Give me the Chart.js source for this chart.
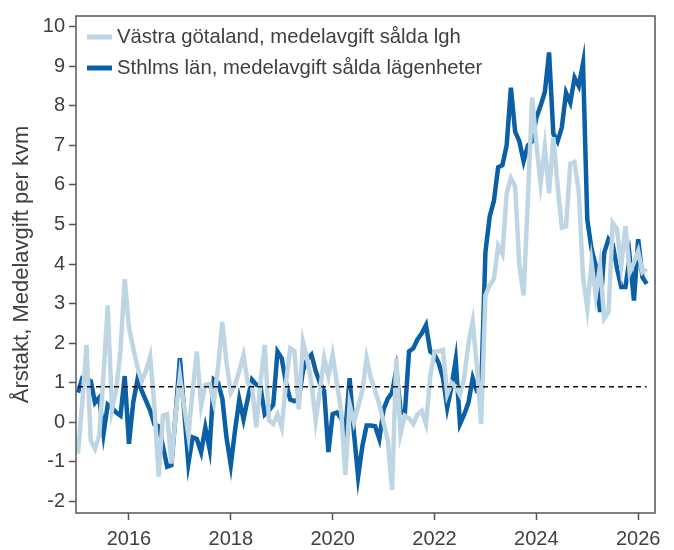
<!DOCTYPE html>
<html lang="sv">
<head>
  <meta charset="UTF-8">
  <title>Medelavgift per kvm</title>
  <script src="https://cdn.jsdelivr.net/npm/chart.js"></script>
  <style>
    html, body { margin: 0; padding: 0; background: #fff; }
    #wrap { width: 674px; height: 550px; }
  </style>
</head>
<body>
  <div id="wrap"><canvas id="chart"></canvas></div>

  <script>
    // Månadsdata, jan 2015 - mar 2026
    const startYear = 2015;
    const vastraLabel = 'Västra götaland, medelavgift sålda lgh';
    const sthlmLabel = 'Sthlms län, medelavgift sålda lägenheter';

    const vastra = [
      -0.79, 0.5, 1.96, -0.46, -0.67, -0.33, 1.2, 2.96, 0.33, 0.83, 1.8, 3.62,
      2.4, 1.88, 1.4, 1.04, 1.3, 1.67, 0.4, -1.37, 0.17, 0.21, -1.04, 0.2,
      1.17, 0.4, -0.33, 0.8, 1.79, 0.42, 0.95, 0.97, 0.5, 1.4, 2.54, 1.5,
      0.75, 0.95, 1.3, 1.7, 1.0, 0.9, -0.13, 1.0, 1.96, 0.05, -0.04, 0.2,
      -0.13, 1.0, 1.87, 1.8, 0.33, 2.04, 1.6, 1.0, 0.04, 0.8, 1.62, 1.17,
      1.71, 1.0, 0.29, -1.33, 0.46, 0.0, 0.4, 0.8, 1.62, 1.12, 0.8, 0.46,
      0.0, -0.46, -1.71, 1.62, -0.29, 0.17, 0.1, -0.04, 0.2, 0.29, -0.04, 1.17,
      1.79, 1.8, 1.83, 0.71, 1.0, 0.9, 0.7, 1.12, 2.0, 2.54, 1.4, -0.04,
      3.21, 3.46, 3.63, 4.46, 4.25, 5.79, 6.17, 5.96, 3.96, 3.21, 5.63, 8.21,
      7.04, 6.04, 6.96, 5.79, 7.21, 6.0, 4.92, 4.96, 6.54, 6.58, 5.83, 3.67,
      2.88, 4.04, 3.2, 3.96, 2.63, 2.79, 5.04, 4.88, 3.96, 4.96, 3.79, 4.04,
      4.33, 3.79, 3.88
    ];

    const sthlm = [
      0.75, 1.12, 1.1, 1.04, 0.5, 0.63, -0.29, 0.45, 0.37, 0.25, 0.17, 1.17,
      -0.54, 0.5, 1.08, 0.8, 0.55, 0.3, -0.05, -0.1, -0.6, -1.12, -1.08, 0.2,
      1.62, 0.3, -1.04, -0.38, -0.42, -0.75, -0.13, -0.67, 1.08, 1.0, 0.6, -0.4,
      -1.08, -0.2, 0.58, 0.08, 0.6, 1.08, 0.95, 0.9, 0.2, 0.3, 0.45, 1.79,
      1.62, 1.0, 0.58, 0.54, 0.58, 1.3, 1.6, 1.71, 1.3, 1.0, 0.79, -0.75,
      0.21, 0.25, 0.1, -0.21, 1.12, -0.25, -1.37, -0.6, -0.08, -0.08, -0.1, -0.42,
      0.33, 0.6, 0.75, 1.33, 0.3, 0.21, 1.79, 1.87, 2.1, 2.25, 2.46, 1.79,
      1.71, 1.5, 1.12, 0.37, 0.9, 1.58, -0.04, 0.2, 0.5, 1.12, 0.79, 0.8,
      4.3, 5.2, 5.6, 6.45, 6.5, 7.0, 8.46, 7.35, 7.1, 6.6, 7.0, 7.1,
      7.7, 8.0, 8.35, 9.35, 7.3, 7.1, 7.45, 8.33, 8.08, 8.71, 8.5, 9.08,
      5.13, 4.38, 3.96, 2.79, 4.29, 4.63, 4.5, 3.9, 3.42, 3.42, 4.17, 3.08,
      4.63, 3.67, 3.5
    ];

    const benchmark = 0.9;
    const xTicks = [2016, 2018, 2020, 2022, 2024, 2026];
    const yTicks = [-2, -1, 0, 1, 2, 3, 4, 5, 6, 7, 8, 9, 10];

    const months = vastra.map((_, i) => startYear + i / 12);
    const toPoints = arr => arr.map((v, i) => ({ x: months[i], y: v }));

    const textColor = '#404040';
    const axisColor = '#555';
    const fontFamily = '"Liberation Sans", Arial, sans-serif';
    const tickSize = 20;
    const legendSize = 20.3;
    const titleSize = 22;

    // ram runt hela plotytan + legend inne i grafen
    const framePlugin = {
      id: 'frame',
      afterDraw(chart) {
        const { ctx, chartArea: a } = chart;
        ctx.save();
        ctx.strokeStyle = axisColor;
        ctx.lineWidth = 1.5;
        ctx.strokeRect(a.left, a.top, a.right - a.left, a.bottom - a.top);

        const items = [
          { text: vastraLabel, color: '#bed6e3' },
          { text: sthlmLabel, color: '#0b5fa5' }
        ];
        ctx.font = `${legendSize}px ${fontFamily}`;
        ctx.textBaseline = 'middle';
        items.forEach((it, i) => {
          const y = a.top + 21 + i * 31;
          ctx.fillStyle = it.color;
          ctx.fillRect(a.left + 11, y - 2.5, 25, 5);
          ctx.fillStyle = textColor;
          ctx.fillText(it.text, a.left + 41, y);
        });
        ctx.restore();
      }
    };

    const ctx = document.getElementById('chart').getContext('2d');
    new Chart(ctx, {
      type: 'line',
      data: {
        datasets: [
          {
            label: 'benchmark',
            data: [{ x: months[0], y: benchmark }, { x: months[months.length - 1], y: benchmark }],
            borderColor: '#111',
            borderWidth: 1.5,
            borderDash: [5, 4],
            pointRadius: 0
          },
          {
            label: vastraLabel,
            data: toPoints(vastra),
            borderColor: '#bed6e3',
            borderWidth: 4.5,
            pointRadius: 0,
            tension: 0
          },
          {
            label: sthlmLabel,
            data: toPoints(sthlm),
            borderColor: '#0b5fa5',
            borderWidth: 4.5,
            pointRadius: 0,
            tension: 0
          }
        ]
      },
      options: {
        responsive: true,
        maintainAspectRatio: false,
        animation: false,
        devicePixelRatio: 1,
        layout: { padding: { left: 0, right: 19, top: 11, bottom: 0 } },
        plugins: {
          legend: { display: false },
          tooltip: { enabled: false }
        },
        scales: {
          x: {
            type: 'linear',
            min: 2014.96,
            max: 2026.33,
            afterBuildTicks: s => { s.ticks = xTicks.map(v => ({ value: v })); },
            afterFit: s => { s.height = 37; },
            grid: { drawOnChartArea: false, drawTicks: true, tickLength: 7, tickWidth: 1.5, tickColor: axisColor },
            border: { display: false },
            ticks: {
              color: textColor,
              padding: 7,
              maxRotation: 0,
              font: { family: fontFamily, size: tickSize },
              callback: v => String(v)
            }
          },
          y: {
            min: -2.29,
            max: 10.27,
            afterBuildTicks: s => { s.ticks = yTicks.map(v => ({ value: v })); },
            afterFit: s => { s.width = 76; },
            grid: { drawOnChartArea: false, drawTicks: true, tickLength: 7, tickWidth: 1.5, tickColor: axisColor },
            border: { display: false },
            ticks: {
              color: textColor,
              padding: 4,
              font: { family: fontFamily, size: tickSize }
            },
            title: {
              display: true,
              text: 'Årstakt, Medelavgift per kvm',
              color: textColor,
              padding: { top: 9, bottom: 0 },
              font: { family: fontFamily, size: titleSize }
            }
          }
        }
      },
      plugins: [framePlugin]
    });
  </script>
</body>
</html>
